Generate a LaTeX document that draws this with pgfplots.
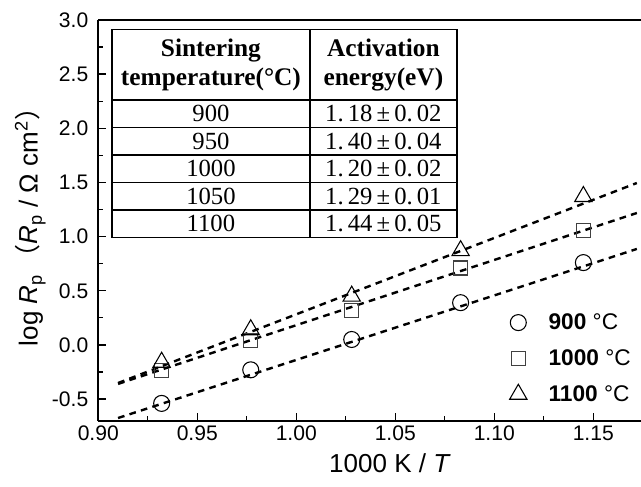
\documentclass[border=0pt]{standalone}
\usepackage{fontspec}
\setmainfont{Liberation Sans}
\newfontfamily\tabfont{Liberation Serif}
\newfontfamily\cjk{Noto Sans CJK SC}
\usepackage{pgfplots}
\pgfplotsset{compat=1.18}
\usetikzlibrary{calc}
\pgfplotsset{lgm/.style={legend image code/.code={\draw[##1] plot coordinates {(0cm,0cm)}; \path (-0.3cm,0cm) (0.72cm,0cm);}}}

\begin{document}
\begin{tikzpicture}
\begin{axis}[
  scale only axis, width=407pt, height=300.75pt,
  xmin=0.90, xmax=1.1741, ymin=-0.703, ymax=3.0,
  axis x line=bottom, axis y line=left,
  axis line style={-, line width=1.2pt},
  tick align=inside,
  major tick length=6pt, minor tick length=3.5pt,
  every tick/.style={black, line width=1pt},
  xtick={0.90,0.95,1.00,1.05,1.10,1.15},
  ytick={-0.5,0,0.5,1.0,1.5,2.0,2.5,3.0},
  minor x tick num=1, minor y tick num=1,
  ticklabel style={font=\fontsize{15.8}{18}\selectfont},
  xticklabel style={/pgf/number format/.cd, fixed, fixed zerofill, precision=2, assume math mode=true},
  yticklabel style={xshift=-4pt, /pgf/number format/.cd, fixed, fixed zerofill, precision=1, assume math mode=true},
  xlabel={1000 K / \textit{T}},
  ylabel={log \textit{R}\textsubscript{p}\,{\cjk（}\textit{R}\textsubscript{p} / Ω cm\textsuperscript{2}{\cjk）}},
  label style={font=\fontsize{19.5}{22}\selectfont},
  xlabel style={at={(axis description cs:0.5375,0)}, anchor=north, yshift=-21pt},
  ylabel style={at={(axis description cs:0,0.5)}, anchor=south, yshift=36pt},
  legend style={draw=none, fill=none, at={(rel axis cs:0.752,0.275)}, anchor=north west,
    font=\fontsize{17}{20}\selectfont, row sep=9.5pt, inner sep=0pt},
  legend cell align=left,
  clip=false,
]
% fitted lines
\addplot[forget plot, black, line width=1.8pt, dash pattern=on 5pt off 4pt] coordinates {(0.91,-0.675) (1.172,0.886)};
\addplot[forget plot, black, line width=1.8pt, dash pattern=on 5pt off 4pt] coordinates {(0.91,-0.36) (1.172,1.218)};
\addplot[forget plot, black, line width=1.8pt, dash pattern=on 5pt off 4pt] coordinates {(0.91,-0.352) (1.172,1.495)};
% measured points
\addplot[only marks, lgm, black, mark=o, mark size=6pt, mark options={line width=0.8pt}] coordinates {
  (0.932,-0.54) (0.977,-0.23) (1.028,0.05) (1.083,0.39) (1.145,0.76)};
\addlegendentry{\textbf{900} °C}
\addplot[only marks, lgm, black!75, mark=square, mark size=5.25pt, mark options={line width=0.8pt}] coordinates {
  (0.932,-0.24) (0.977,0.04) (1.028,0.32) (1.083,0.71) (1.145,1.06)};
\addlegendentry{\textbf{1000} °C}
\addplot[only marks, lgm, black, mark=triangle, mark size=7.5pt, mark options={line width=0.8pt}] coordinates {
  (0.932,-0.16) (0.977,0.14) (1.028,0.45) (1.083,0.87) (1.145,1.37)};
\addlegendentry{\textbf{1100} °C}
% top frame line (no ticks)
\draw[line width=1.2pt] (rel axis cs:0,1) -- (rel axis cs:1,1);
% inset table
\draw[line width=1pt, fill=white] (axis cs:0.9069,2.915) rectangle (axis cs:1.0812,0.994);
\draw[line width=1pt] (axis cs:1.0069,2.915) -- (axis cs:1.0069,0.994);
\draw[line width=1pt] (axis cs:0.9069,2.26) -- (axis cs:1.0812,2.26);
\draw[line width=1pt] (axis cs:0.9069,2.006) -- (axis cs:1.0812,2.006);
\draw[line width=1pt] (axis cs:0.9069,1.753) -- (axis cs:1.0812,1.753);
\draw[line width=1pt] (axis cs:0.9069,1.498) -- (axis cs:1.0812,1.498);
\draw[line width=1pt] (axis cs:0.9069,1.246) -- (axis cs:1.0812,1.246);
\node[font=\tabfont\bfseries\fontsize{19}{21.75}\selectfont, align=center] at (axis cs:0.9569,2.587) {Sintering\\temperature(°C)};
\node[font=\tabfont\bfseries\fontsize{19}{21.75}\selectfont, align=center] at (axis cs:1.044,2.587) {Activation\\energy(eV)};
\node[font=\tabfont\fontsize{18.5}{20}\selectfont] at (axis cs:0.9569,2.133) {900};
\node[font=\tabfont\fontsize{18.5}{20}\selectfont] at (axis cs:0.9569,1.880) {950};
\node[font=\tabfont\fontsize{18.5}{20}\selectfont] at (axis cs:0.9569,1.625) {1000};
\node[font=\tabfont\fontsize{18.5}{20}\selectfont] at (axis cs:0.9569,1.372) {1050};
\node[font=\tabfont\fontsize{18.5}{20}\selectfont] at (axis cs:0.9569,1.120) {1100};
\node[font=\tabfont\fontsize{18.5}{20}\selectfont] at (axis cs:1.044,2.133) {1.\,18\,±\,0.\,02};
\node[font=\tabfont\fontsize{18.5}{20}\selectfont] at (axis cs:1.044,1.880) {1.\,40\,±\,0.\,04};
\node[font=\tabfont\fontsize{18.5}{20}\selectfont] at (axis cs:1.044,1.625) {1.\,20\,±\,0.\,02};
\node[font=\tabfont\fontsize{18.5}{20}\selectfont] at (axis cs:1.044,1.372) {1.\,29\,±\,0.\,01};
\node[font=\tabfont\fontsize{18.5}{20}\selectfont] at (axis cs:1.044,1.120) {1.\,44\,±\,0.\,05};
\end{axis}
\pgfresetboundingbox
\path[use as bounding box] ($(current axis.south west)+(-73.7pt,-48.75pt)$) rectangle ($(current axis.north east)+(0,15pt)$);
\end{tikzpicture}
\end{document}
